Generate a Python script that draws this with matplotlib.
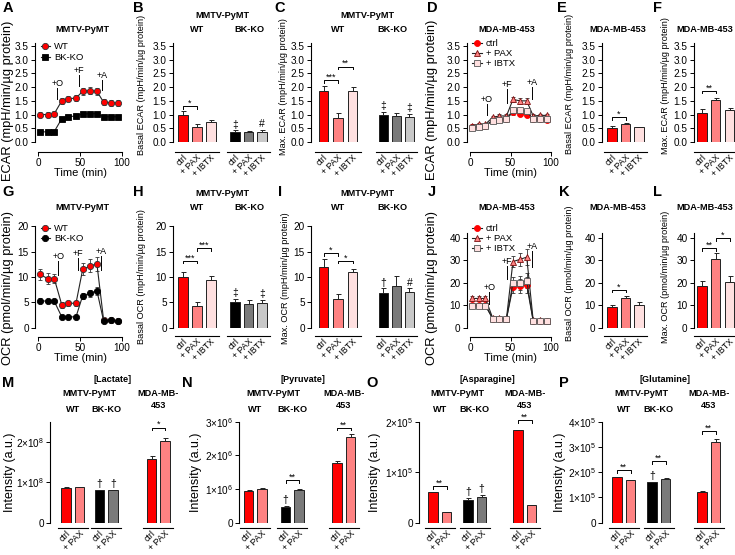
import numpy as np
import matplotlib
matplotlib.use('Agg')
import matplotlib.pyplot as plt
from matplotlib.ticker import FuncFormatter, FormatStrFormatter

plt.rcParams['font.family'] = ['Liberation Sans', 'DejaVu Sans']
plt.rcParams['mathtext.fontset'] = 'custom'
plt.rcParams['mathtext.rm'] = 'Liberation Sans'
plt.rcParams['axes.linewidth'] = 0.8

W, H = 735, 555
fig = plt.figure(figsize=(W / 100, H / 100), dpi=100)

# ---------------- data ----------------
time = [2, 11, 19, 28, 36, 45, 53, 62, 70, 78, 87, 95]

ecar_wt = [1.0, 1.0, 1.03, 1.5, 1.58, 1.6, 1.85, 1.87, 1.85, 1.45, 1.43, 1.42]
ecar_wt_err = [0.1, 0.1, 0.1, 0.12, 0.1, 0.1, 0.12, 0.12, 0.12, 0.1, 0.1, 0.1]
ecar_ko = [0.37, 0.37, 0.38, 0.85, 0.92, 0.95, 1.02, 1.03, 1.03, 0.92, 0.92, 0.92]
ecar_ko_err = [0.03, 0.03, 0.03, 0.05, 0.06, 0.06, 0.06, 0.06, 0.06, 0.05, 0.05, 0.05]

ecar_mda_ctrl = [0.55, 0.58, 0.6, 0.8, 0.85, 0.85, 1.08, 1.03, 1.0, 0.83, 0.83, 0.82]
ecar_mda_pax = [0.6, 0.65, 0.65, 0.9, 0.95, 0.95, 1.55, 1.5, 1.5, 0.95, 0.97, 0.97]
ecar_mda_ibtx = [0.52, 0.55, 0.58, 0.78, 0.82, 0.85, 1.15, 1.15, 1.12, 0.83, 0.85, 0.83]
ecar_mda_err = [0.05, 0.05, 0.05, 0.06, 0.06, 0.06, 0.1, 0.1, 0.1, 0.06, 0.06, 0.06]

ocr_wt = [10.5, 9.7, 9.7, 4.5, 4.8, 4.8, 11.5, 12.2, 12.6, 1.5, 1.5, 1.3]
ocr_wt_err = [1.0, 1.0, 0.8, 0.6, 0.5, 0.5, 1.2, 1.3, 1.4, 0.3, 0.3, 0.2]
ocr_ko = [5.3, 5.2, 5.2, 2.1, 2.1, 2.1, 6.3, 6.8, 7.3, 1.3, 1.5, 1.3]
ocr_ko_err = [0.5, 0.4, 0.4, 0.2, 0.2, 0.2, 0.6, 0.7, 0.8, 0.2, 0.2, 0.2]

ocr_mda_ctrl = [10, 10, 10, 4, 4, 4, 18, 18.5, 19, 3, 3, 3]
ocr_mda_pax = [13, 13, 13, 4.2, 4.2, 4, 29.5, 30.5, 31.5, 3.2, 3.2, 3.0]
ocr_mda_ibtx = [9.8, 9.8, 9.8, 4, 4, 3.8, 20, 20, 21, 3, 3, 2.8]
ocr_mda_err = [1.0, 1.0, 1.0, 0.8, 0.8, 0.8, 2.5, 3.0, 3.5, 0.5, 0.5, 0.5]

# injections: label, time, line bottom, line top
inj_ecar_a = [('+O', 22.5, 1.57, 1.97), ('+F', 48, 2.04, 2.45), ('+A', 75.7, 1.9, 2.26)]
inj_ecar_d = [('+O', 21, 0.99, 1.39), ('+F', 46, 1.42, 1.93), ('+A', 77, 1.55, 2.0)]
inj_ocr_g = [('+O', 24, 10.4, 13.1), ('+F', 47, 11.4, 13.8), ('+A', 75, 11.4, 14.2)]
inj_ocr_j = [('+O', 24, 10.3, 16.0), ('+F', 46, 21.6, 27.5), ('+A', 77, 27.0, 34.4)]

labels3 = ['ctrl', '+ PAX', '+ IBTX']
labels2 = ['ctrl', '+ PAX']

basal_ecar_wt = [1.0, 0.55, 0.72]
basal_ecar_wt_err = [0.13, 0.1, 0.08]
basal_ecar_ko = [0.38, 0.35, 0.37]
basal_ecar_ko_err = [0.05, 0.04, 0.07]

max_ecar_wt = [1.85, 0.88, 1.85]
max_ecar_wt_err = [0.18, 0.17, 0.17]
max_ecar_ko = [1.0, 0.93, 0.92]
max_ecar_ko_err = [0.1, 0.12, 0.1]

basal_ecar_mda = [0.5, 0.65, 0.53]
basal_ecar_mda_err = [0.08, 0.05, 0.02]
max_ecar_mda = [1.05, 1.52, 1.15]
max_ecar_mda_err = [0.15, 0.1, 0.08]

basal_ocr_wt = [10.0, 4.3, 9.5]
basal_ocr_wt_err = [1.0, 0.8, 0.6]
basal_ocr_ko = [5.1, 4.7, 4.9]
basal_ocr_ko_err = [0.6, 0.7, 0.6]

max_ocr_wt = [12.0, 5.6, 11.0]
max_ocr_wt_err = [1.5, 1.0, 0.6]
max_ocr_ko = [6.8, 8.3, 7.0]
max_ocr_ko_err = [1.0, 1.8, 0.8]

basal_ocr_mda = [9.3, 13.0, 10.0]
basal_ocr_mda_err = [0.8, 1.0, 1.2]
max_ocr_mda = [18.5, 30.5, 20.5]
max_ocr_mda_err = [2.2, 2.8, 2.5]

lactate_wt, lactate_wt_err = [0.87e8, 0.88e8], [0.01e8, 0.005e8]
lactate_ko, lactate_ko_err = [0.80e8, 0.80e8], [0.01e8, 0.01e8]
lactate_mda, lactate_mda_err = [1.58e8, 2.02e8], [0.08e8, 0.08e8]

pyruvate_wt, pyruvate_wt_err = [0.95e6, 0.99e6], [0.02e6, 0.04e6]
pyruvate_ko, pyruvate_ko_err = [0.48e6, 0.97e6], [0.02e6, 0.03e6]
pyruvate_mda, pyruvate_mda_err = [1.78e6, 2.55e6], [0.05e6, 0.07e6]

asparagine_wt, asparagine_wt_err = [0.6e5, 0.21e5], [0.01e5, 0.005e5]
asparagine_ko, asparagine_ko_err = [0.45e5, 0.5e5], [0.03e5, 0.04e5]
asparagine_mda, asparagine_mda_err = [1.83e5, 0.35e5], [0.01e5, 0.01e5]

glutamine_wt, glutamine_wt_err = [1.8e5, 1.68e5], [0.02e5, 0.01e5]
glutamine_ko, glutamine_ko_err = [1.6e5, 1.74e5], [0.02e5, 0.03e5]
glutamine_mda, glutamine_mda_err = [1.22e5, 3.18e5], [0.03e5, 0.13e5]

RED, PINK, LPINK = '#FF0000', '#FF8282', '#FFE0E0'
BLACK, GRAY, LGRAY = '#000000', '#7A7A7A', '#C8C8C8'
WT_COLS = [RED, PINK, LPINK]
KO_COLS = [BLACK, GRAY, LGRAY]

TICK = 7.2    # tick label size
TITLE = 6.6   # bold group titles
BIGLAB = 9.3  # y label of the time course panels


# ---------------- helpers ----------------
def add_ax(x0, y0, x1, y1):
    a = fig.add_axes([x0 / W, 1 - y1 / H, (x1 - x0) / W, (y1 - y0) / H])
    a.patch.set_alpha(0)
    return a


def ftext(x, y, s, size=TITLE, bold=False, **kw):
    fig.text(x / W, 1 - y / H, s, fontsize=size,
             fontweight='bold' if bold else 'normal',
             ha=kw.pop('ha', 'center'), va=kw.pop('va', 'center'), **kw)


def ylab(x, y, s, size=6.6):
    ftext(x, y, s, size=size, rotation=90)


def series_panel(x0, x1, y0, scale, ylim, yticks, series, marks, fmt=None,
                 leg_y=1.07, leg_sp=0.2):
    ax = add_ax(x0, y0 - ylim[1] * scale, x1, y0)
    ax.set_xlim(-4, 100)
    ax.set_ylim(*ylim)
    for vals, errs, lab, mk, ms, fc, ec in series:
        ax.errorbar(time, vals, yerr=errs, fmt='none', ecolor='#333',
                    elinewidth=0.6, capsize=1.4, capthick=0.6, zorder=2)
        ax.plot(time, vals, color='#222', lw=0.8, marker=mk, ms=ms,
                mfc=fc, mec=ec, mew=0.6, label=lab, zorder=3)
    for txt, tm, lo, hi in marks:
        ax.plot([tm, tm], [lo, hi], color='k', lw=0.7)
        ax.text(tm, hi, txt, ha='center', va='bottom', fontsize=6.5)
    ax.spines[['top', 'right']].set_visible(False)
    ax.spines['bottom'].set_position(('outward', 7))
    ax.spines['bottom'].set_bounds(0, 100)
    ax.spines['left'].set_bounds(*ylim)
    ax.set_xticks([0, 50, 100])
    ax.set_yticks(yticks)
    if fmt:
        ax.yaxis.set_major_formatter(fmt)
    ax.tick_params(length=3, width=0.7, labelsize=TICK, pad=1.5)
    ax.legend(loc='upper left', bbox_to_anchor=(0.0, leg_y), frameon=False,
              fontsize=6.8, handlelength=1.0, handletextpad=0.4,
              labelspacing=leg_sp, borderpad=0.1)
    return ax


def bar_panel(spine, firsts, sps, y0, scale, ylim, yticks, groups, labels,
              outward, fmt=None, width=0.68):
    axes = []
    for k, (first, sp, (vals, errs, cols)) in enumerate(zip(firsts, sps, groups)):
        n = len(vals)
        left = spine if k == 0 else first - 0.75 * sp
        right = first + (n - 1 + 0.75) * sp
        ax = add_ax(left, y0 - ylim[1] * scale, right, y0)
        ax.set_xlim((left - first) / sp, (right - first) / sp)
        ax.set_ylim(*ylim)
        x = np.arange(n)
        ax.bar(x, vals, width=width, color=cols[:n], edgecolor='#222',
               linewidth=0.7, zorder=2)
        ax.errorbar(x, vals, yerr=[np.zeros(n), errs], fmt='none',
                    ecolor='#222', elinewidth=0.7, capsize=1.8,
                    capthick=0.7, zorder=3)
        ax.spines[['top', 'right']].set_visible(False)
        ax.spines['bottom'].set_position(('outward', outward * 0.72))
        ax.spines['bottom'].set_bounds(-0.6, n - 1 + 0.6)
        ax.set_xticks(x + 0.2)
        ax.set_xticklabels(labels[:n], rotation=45, ha='right', va='center',
                           rotation_mode='anchor', fontsize=6.3)
        ax.tick_params(axis='x', length=0, pad=3)
        if k == 0:
            ax.set_yticks(yticks)
            ax.spines['left'].set_bounds(*ylim)
            ax.tick_params(axis='y', length=3, width=0.7, labelsize=TICK, pad=1.5)
            if fmt:
                ax.yaxis.set_major_formatter(fmt)
        else:
            ax.spines['left'].set_visible(False)
            ax.set_yticks([])
        axes.append(ax)
    return axes


def bracket(ax, i, j, y, txt, tick):
    ax.plot([i, i, j, j], [y - tick, y, y, y - tick], color='k', lw=0.7,
            clip_on=False, zorder=4)
    ax.text((i + j) / 2, y - tick * 0.6, txt, ha='center', va='bottom',
            fontsize=6.5, clip_on=False)


def marks(ax, vals, errs, syms, pad):
    for i, (v, e, s) in enumerate(zip(vals, errs, syms)):
        if s:
            ax.text(i, v + e + pad, s, ha='center', va='bottom', fontsize=7.5)


def letter(x, y, s):
    ftext(x, y, s, size=10.5, bold=True)


f1 = FormatStrFormatter('%.1f')


def sci(p):
    def f(v, pos):
        if v == 0:
            return '0'
        return r'$\mathregular{%d{\times}10^{%d}}$' % (round(v / 10 ** p), p)
    return FuncFormatter(f)


# ---------------- row 1: ECAR ----------------
R1Y0, R1S, R1LIM = 142, 27.43, (0, 3.6)
e_ticks = [0, 0.5, 1.0, 1.5, 2.0, 2.5, 3.0, 3.5]

series_panel(35, 122, R1Y0, R1S, R1LIM, e_ticks,
             [(ecar_wt, ecar_wt_err, 'WT', 'o', 4.5, RED, '#333'),
              (ecar_ko, ecar_ko_err, 'BK-KO', 's', 4, BLACK, BLACK)],
             inj_ecar_a, f1)
ftext(82, 29, 'MMTV-PyMT', bold=True)
ylab(8, 101, 'ECAR (mpH/min/µg protein)', size=BIGLAB)
ftext(80, 173, 'Time (min)', size=8)

axB = bar_panel(173, [183, 235], [14, 13.5], R1Y0, R1S, R1LIM, e_ticks,
                [(basal_ecar_wt, basal_ecar_wt_err, WT_COLS),
                 (basal_ecar_ko, basal_ecar_ko_err, KO_COLS)],
                labels3, 10, f1)
bracket(axB[0], 0, 1, 1.3, '*', 0.1)
marks(axB[1], basal_ecar_ko, basal_ecar_ko_err, ['‡', '', '#'], 0.02)
ylab(142, 85, 'Basal ECAR (mpH/min/µg protein)')
ftext(222, 15, 'MMTV-PyMT', bold=True)
ftext(197, 29, 'WT', bold=True)
ftext(249, 29, 'BK-KO', bold=True)

axC = bar_panel(311, [323.5, 383.5], [14.5, 13], R1Y0, R1S, R1LIM, e_ticks,
                [(max_ecar_wt, max_ecar_wt_err, WT_COLS),
                 (max_ecar_ko, max_ecar_ko_err, KO_COLS)],
                labels3, 10, f1)
bracket(axC[0], 0, 1, 2.26, '***', 0.1)
bracket(axC[0], 1, 2, 2.75, '**', 0.1)
marks(axC[1], max_ecar_ko, max_ecar_ko_err, ['‡', '', '‡'], 0.02)
ylab(284, 87, 'Max. ECAR (mpH/min/µg protein)')
ftext(367, 15, 'MMTV-PyMT', bold=True)
ftext(338, 29, 'WT', bold=True)
ftext(392, 29, 'BK-KO', bold=True)

series_panel(466.8, 551, R1Y0, R1S, R1LIM, e_ticks,
             [(ecar_mda_ctrl, ecar_mda_err, 'ctrl', 'o', 4.3, RED, RED),
              (ecar_mda_pax, ecar_mda_err, '+ PAX', '^', 4.8, PINK, '#7A1010'),
              (ecar_mda_ibtx, ecar_mda_err, '+ IBTX', 's', 4.8, LPINK, '#555')],
             inj_ecar_d, f1, leg_y=1.10, leg_sp=0.12)
ftext(507, 29, 'MDA-MB-453', bold=True)
ylab(432, 100, 'ECAR (mpH/min/µg protein)', size=BIGLAB)
ftext(510, 173, 'Time (min)', size=8)

axE = bar_panel(602, [612], [13.5], R1Y0, R1S, R1LIM, e_ticks,
                [(basal_ecar_mda, basal_ecar_mda_err, WT_COLS)], labels3, 10, f1)
bracket(axE[0], 0, 1, 0.92, '*', 0.1)
ylab(570, 84, 'Basal ECAR (mpH/min/µg protein)')
ftext(618, 29, 'MDA-MB-453', bold=True)

axF = bar_panel(694, [702], [13.75], R1Y0, R1S, R1LIM, e_ticks,
                [(max_ecar_mda, max_ecar_mda_err, WT_COLS)], labels3, 10, f1)
bracket(axF[0], 0, 1, 1.87, '**', 0.1)
ylab(665, 86, 'Max. ECAR (mpH/min/µg protein)')
ftext(705, 29, 'MDA-MB-453', bold=True)

# ---------------- row 2: OCR ----------------
R2Y0 = 327.5
G_S, G_LIM, g_ticks = 5.05, (0, 20), [0, 5, 10, 15, 20]
J_S, J_LIM, j_ticks = 2.235, (0, 42.5), [0, 10, 20, 30, 40]

series_panel(35, 122, R2Y0, G_S, G_LIM, g_ticks,
             [(ocr_wt, ocr_wt_err, 'WT', 'o', 4.5, RED, '#333'),
              (ocr_ko, ocr_ko_err, 'BK-KO', 'o', 4.5, BLACK, BLACK)],
             inj_ocr_g, leg_y=1.08, leg_sp=0.12)
ftext(82, 207, 'MMTV-PyMT', bold=True)
ylab(8, 288, 'OCR (pmol/min/µg protein)', size=BIGLAB)
ftext(80, 358, 'Time (min)', size=8)

axH = bar_panel(173, [183, 235], [14, 13.5], R2Y0, G_S, G_LIM, g_ticks,
                [(basal_ocr_wt, basal_ocr_wt_err, WT_COLS),
                 (basal_ocr_ko, basal_ocr_ko_err, KO_COLS)],
                labels3, 8)
bracket(axH[0], 0, 1, 13.2, '***', 0.5)
bracket(axH[0], 1, 2, 15.7, '***', 0.5)
marks(axH[1], basal_ocr_ko, basal_ocr_ko_err, ['‡', '', '‡'], 0.1)
ylab(142, 277, 'Basal OCR (mpH/min/µg protein)')
ftext(222, 193, 'MMTV-PyMT', bold=True)
ftext(197, 207, 'WT', bold=True)
ftext(249, 207, 'BK-KO', bold=True)

axI = bar_panel(311, [323.5, 383.5], [14.5, 13], R2Y0, G_S, G_LIM, g_ticks,
                [(max_ocr_wt, max_ocr_wt_err, WT_COLS),
                 (max_ocr_ko, max_ocr_ko_err, KO_COLS)],
                labels3, 8)
bracket(axI[0], 0, 1, 14.7, '*', 0.5)
bracket(axI[0], 1, 2, 13.2, '*', 0.5)
marks(axI[1], max_ocr_ko, max_ocr_ko_err, ['†', '', '#'], 0.1)
ylab(286, 278, 'Max. OCR (mpH/min/µg protein)')
ftext(367, 193, 'MMTV-PyMT', bold=True)
ftext(338, 207, 'WT', bold=True)
ftext(392, 207, 'BK-KO', bold=True)

series_panel(466.8, 551, R2Y0, J_S, J_LIM, j_ticks,
             [(ocr_mda_ctrl, ocr_mda_err, 'ctrl', 'o', 4.3, RED, RED),
              (ocr_mda_pax, ocr_mda_err, '+ PAX', '^', 4.8, PINK, '#7A1010'),
              (ocr_mda_ibtx, ocr_mda_err, '+ IBTX', 's', 4.8, LPINK, '#555')],
             inj_ocr_j, leg_y=1.15, leg_sp=0.12)
ftext(507, 207, 'MDA-MB-453', bold=True)
ylab(432, 288, 'OCR (pmol/min/µg protein)', size=BIGLAB)
ftext(510, 358, 'Time (min)', size=8)

axK = bar_panel(602, [612], [13.5], R2Y0, J_S, J_LIM, j_ticks,
                [(basal_ocr_mda, basal_ocr_mda_err, WT_COLS)], labels3, 8)
bracket(axK[0], 0, 1, 16.8, '*', 1.0)
ylab(570, 273, 'Basal OCR (pmol/min/µg protein)')
ftext(618, 207, 'MDA-MB-453', bold=True)

axL = bar_panel(694, [702], [13.75], R2Y0, J_S, J_LIM, j_ticks,
                [(max_ocr_mda, max_ocr_mda_err, WT_COLS)], labels3, 8)
bracket(axL[0], 0, 1, 35.4, '**', 1.0)
bracket(axL[0], 1, 2, 39.9, '*', 1.0)
ylab(665, 277, 'Max. OCR (pmol/min/µg protein)')
ftext(705, 207, 'MDA-MB-453', bold=True)

# ---------------- row 3: metabolites ----------------
R3Y0, R3TOP = 522.7, 421.7
MDA_COLS = [RED, PINK]


def metab_panel(spine, firsts, top, ticks, p, data, name, name_x, lab_x):
    scale = (R3Y0 - R3TOP) / top
    sp = 13.5
    axes = bar_panel(spine, firsts, [sp, sp, sp], R3Y0, scale, (0, top),
                     ticks, [(data[0][0], data[0][1], WT_COLS),
                             (data[1][0], data[1][1], KO_COLS),
                             (data[2][0], data[2][1], MDA_COLS)],
                     labels2, 5, sci(p))
    c = [f + sp / 2 for f in firsts]
    ftext(name_x, 380, name, bold=True)
    ftext((c[0] + c[1]) / 2, 394, 'MMTV-PyMT', bold=True)
    ftext(c[2], 394, 'MDA-MB-', bold=True)
    ftext(c[2], 406, '453', bold=True)
    ftext(c[0], 410, 'WT', bold=True)
    ftext(c[1], 410, 'BK-KO', bold=True)
    ylab(lab_x, 472, 'Intensity (a.u.)', size=9)
    return axes


axM = metab_panel(50, [66, 99.5, 151.5], 2.5e8, [0, 1e8, 2e8], 8,
                  [(lactate_wt, lactate_wt_err), (lactate_ko, lactate_ko_err),
                   (lactate_mda, lactate_mda_err)], '[Lactate]', 113, 10)
marks(axM[1], lactate_ko, lactate_ko_err, ['†', '†'], 0.03e8)
bracket(axM[2], 0, 1, 2.35e8, '*', 0.06e8)

axN = metab_panel(239.3, [248.5, 285.5, 337], 3e6, [0, 1e6, 2e6, 3e6], 6,
                  [(pyruvate_wt, pyruvate_wt_err), (pyruvate_ko, pyruvate_ko_err),
                   (pyruvate_mda, pyruvate_mda_err)], '[Pyruvate]', 303, 196)
marks(axN[1], pyruvate_ko, pyruvate_ko_err, ['†', ''], 0.03e6)
bracket(axN[1], 0, 1, 1.27e6, '**', 0.08e6)
bracket(axN[2], 0, 1, 2.82e6, '**', 0.08e6)

axO = metab_panel(419.3, [433, 468, 518], 2e5, [0, 1e5, 2e5], 5,
                  [(asparagine_wt, asparagine_wt_err),
                   (asparagine_ko, asparagine_ko_err),
                   (asparagine_mda, asparagine_mda_err)], '[Asparagine]', 487, 375)
marks(axO[1], asparagine_ko, asparagine_ko_err, ['†', '†'], 0.02e5)
bracket(axO[0], 0, 1, 0.72e5, '**', 0.06e5)
bracket(axO[2], 0, 1, 2.03e5, '**', 0.05e5)

axP = metab_panel(602.3, [617, 652, 702], 4e5, [0, 1e5, 2e5, 3e5, 4e5], 5,
                  [(glutamine_wt, glutamine_wt_err), (glutamine_ko, glutamine_ko_err),
                   (glutamine_mda, glutamine_mda_err)], '[Glutamine]', 665, 560)
marks(axP[1], glutamine_ko, glutamine_ko_err, ['†', ''], 0.03e5)
bracket(axP[0], 0, 1, 2.1e5, '**', 0.12e5)
bracket(axP[1], 0, 1, 2.44e5, '**', 0.12e5)
bracket(axP[2], 0, 1, 3.64e5, '**', 0.12e5)

# ---------------- panel letters ----------------
for s, x, y in [('A', 8, 8), ('B', 138, 8), ('C', 280, 8), ('D', 432, 8),
                ('E', 562, 8), ('F', 657, 8),
                ('G', 8, 192), ('H', 138, 192), ('I', 280, 192), ('J', 432, 192),
                ('K', 564, 192), ('L', 657, 192),
                ('M', 8, 383), ('N', 187, 383), ('O', 372, 383), ('P', 564, 383)]:
    letter(x, y, s)

fig.savefig('out.png', dpi=100)
